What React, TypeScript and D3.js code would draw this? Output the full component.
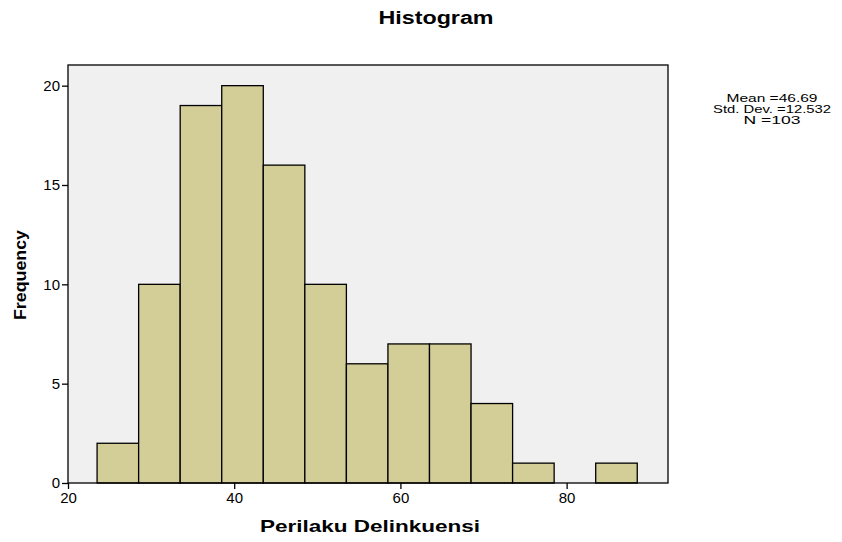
import { useEffect, useRef } from "react";
import * as d3 from "d3";

// bins are 5 wide, starting at 23.5
const binStarts = [23.5, 28.5, 33.5, 38.5, 43.5, 48.5, 53.5, 58.5, 63.5, 68.5, 73.5, 78.5, 83.5];
const counts = [2, 10, 19, 20, 16, 10, 6, 7, 7, 4, 1, 0, 1];
const binWidth = 5;
const xTicks = [20, 40, 60, 80];
const yTicks = [0, 5, 10, 15, 20];
const statLines = ["Mean =46.69", "Std. Dev. =12.532", "N =103"];
const statWidths = [91, 118, 57];

export default function App() {
    const svgEl = useRef<SVGSVGElement>(null);

    useEffect(() => {
        const svg = d3.select(svgEl.current);
        svg.selectChildren().remove();

        const left = 68, right = 668, top = 65, bottom = 483;
        const font = "'Liberation Sans', Arial, sans-serif";

        const x = d3.scaleLinear().domain([20, 92.2]).range([left, right]);
        const y = d3.scaleLinear().domain([0, 21.04]).range([bottom, top]);

        svg.append("rect")
            .attr("x", left).attr("y", top)
            .attr("width", right - left).attr("height", bottom - top)
            .attr("fill", "#f0f0f0");

        svg.append("g")
            .selectAll("rect")
            .data(counts.map((c, i) => ({ c, s: binStarts[i] })).filter(d => d.c > 0))
            .join("rect")
            .attr("x", d => x(d.s))
            .attr("y", d => y(d.c))
            .attr("width", d => x(d.s + binWidth) - x(d.s))
            .attr("height", d => y(0) - y(d.c))
            .attr("fill", "#d3ce97")
            .attr("stroke", "#000")
            .attr("stroke-width", 1.3);

        svg.append("rect")
            .attr("x", left).attr("y", top)
            .attr("width", right - left).attr("height", bottom - top)
            .attr("fill", "none")
            .attr("stroke", "#000")
            .attr("stroke-width", 1.3);

        const xAxis = svg.append("g")
            .attr("transform", `translate(0,${bottom})`)
            .call(d3.axisBottom(x).tickValues(xTicks).tickSize(6).tickPadding(3));
        xAxis.select(".domain").remove();
        xAxis.selectAll("line").attr("stroke-width", 1.3);
        xAxis.selectAll("text").attr("font-family", font).attr("font-size", 15).attr("fill", "#000");

        const yAxis = svg.append("g")
            .attr("transform", `translate(${left},0)`)
            .call(d3.axisLeft(y).tickValues(yTicks).tickSize(6).tickPadding(2));
        yAxis.select(".domain").remove();
        yAxis.selectAll("line").attr("stroke-width", 1.3);
        yAxis.selectAll("text").attr("font-family", font).attr("font-size", 15).attr("fill", "#000");

        svg.append("text")
            .attr("x", 436).attr("y", 24)
            .attr("text-anchor", "middle")
            .attr("font-family", font).attr("font-weight", "bold").attr("font-size", 18)
            .attr("textLength", 115).attr("lengthAdjust", "spacingAndGlyphs")
            .text("Histogram");

        svg.append("text")
            .attr("x", 370).attr("y", 532)
            .attr("text-anchor", "middle")
            .attr("font-family", font).attr("font-weight", "bold").attr("font-size", 17)
            .attr("textLength", 220).attr("lengthAdjust", "spacingAndGlyphs")
            .text("Perilaku Delinkuensi");

        svg.append("text")
            .attr("transform", `translate(26,275) rotate(-90)`)
            .attr("text-anchor", "middle")
            .attr("font-family", font).attr("font-weight", "bold").attr("font-size", 17)
            .attr("textLength", 90).attr("lengthAdjust", "spacingAndGlyphs")
            .text("Frequency");

        svg.append("g")
            .selectAll("text")
            .data(statLines)
            .join("text")
            .attr("x", 772)
            .attr("y", (_, i) => 102 + i * 11)
            .attr("text-anchor", "middle")
            .attr("font-family", font).attr("font-size", 10.5)
            .attr("textLength", (_, i) => statWidths[i]).attr("lengthAdjust", "spacingAndGlyphs")
            .text(d => d);
    }, []);

    return <svg ref={svgEl} width={842} height={542}
        style={{ position: "absolute", left: 0, top: 0, background: "#fff" }}>
    </svg>;
}
